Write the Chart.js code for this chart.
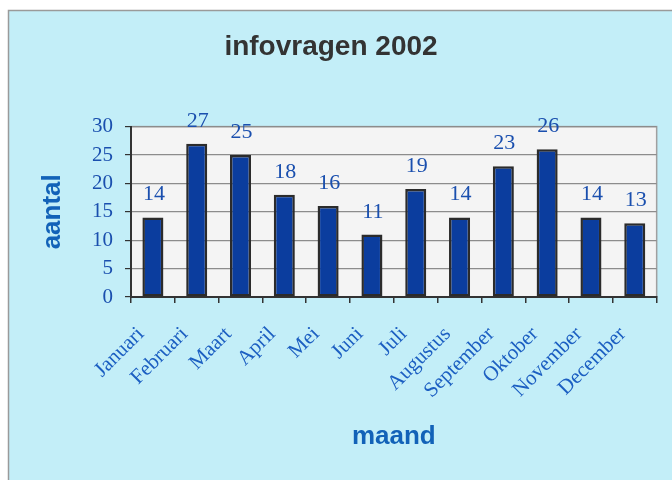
<!DOCTYPE html>
<html>
<head>
<meta charset="utf-8">
<script src="https://cdn.jsdelivr.net/npm/chart.js@4/dist/chart.umd.min.js"></script>
<style>
    html, body { margin: 0; padding: 0; background: #ffffff; }
    #wrap { width: 672px; height: 480px; }
</style>
</head>
<body>
<div id="wrap"><canvas id="chart" width="672" height="480"></canvas></div>
<script>
'use strict';

const maanden = ['Januari', 'Februari', 'Maart', 'April', 'Mei', 'Juni',
    'Juli', 'Augustus', 'September', 'Oktober', 'November', 'December'];
const aantallen = [14, 27, 25, 18, 16, 11, 19, 14, 23, 26, 14, 13];
const yTicks = [0, 5, 10, 15, 20, 25, 30];

const titel = 'infovragen 2002';
const yTitel = 'aantal';
const xTitel = 'maand';

const serif = '"Liberation Serif", "Times New Roman", serif';
const sans = '"Liberation Sans", Arial, sans-serif';

// page + plot backgrounds
const achtergrond = {
    id: 'achtergrond',
    beforeDraw(chart) {
        const ctx = chart.ctx,
            a = chart.chartArea;
        ctx.save();
        ctx.fillStyle = '#ffffff';
        ctx.fillRect(0, 0, chart.width, chart.height);
        ctx.fillStyle = '#c3eef8';
        ctx.fillRect(8, 10, chart.width - 8, chart.height - 10);
        ctx.strokeStyle = '#9a9a9a';
        ctx.lineWidth = 1.5;
        ctx.beginPath();
        ctx.moveTo(8.5, chart.height);
        ctx.lineTo(8.5, 10.5);
        ctx.lineTo(chart.width, 10.5);
        ctx.stroke();

        ctx.fillStyle = '#f4f4f4';
        ctx.fillRect(a.left, a.top, a.right - a.left, a.bottom - a.top);
        ctx.strokeStyle = '#a0a0a0';
        ctx.lineWidth = 1.5;
        ctx.strokeRect(a.left, a.top, a.right - a.left, a.bottom - a.top);
        ctx.restore();
    }
};

// values above the bars
const waarden = {
    id: 'waarden',
    afterDatasetsDraw(chart) {
        const ctx = chart.ctx,
            meta = chart.getDatasetMeta(0);
        ctx.save();
        ctx.fillStyle = '#1a4fae';
        ctx.font = '22px ' + serif;
        ctx.textAlign = 'center';
        ctx.textBaseline = 'alphabetic';
        meta.data.forEach((bar, i) => {
            ctx.fillText(String(aantallen[i]), bar.x + 1, bar.y - 17);
        });
        ctx.restore();
    }
};

new Chart(document.getElementById('chart'), {
    type: 'bar',
    data: {
        labels: maanden,
        datasets: [{
            data: aantallen,
            backgroundColor: '#0b3d9e',
            borderColor: '#2b2b2b',
            borderWidth: 2.5,
            borderSkipped: false,
            categoryPercentage: 1,
            barPercentage: 0.48
        }]
    },
    options: {
        responsive: false,
        animation: false,
        layout: { padding: { left: 0, right: 10, top: 0, bottom: 0 } },
        plugins: {
            legend: { display: false },
            tooltip: { enabled: false },
            title: {
                display: true,
                text: titel,
                color: '#333333',
                font: { family: sans, size: 28, weight: 'bold', lineHeight: 1.2 },
                padding: { top: 30, bottom: 63 }
            }
        },
        scales: {
            x: {
                offset: true,
                grid: {
                    offset: true,
                    drawOnChartArea: false,
                    drawTicks: true,
                    tickLength: 6,
                    tickColor: '#333333',
                    lineWidth: 1.5
                },
                border: { color: '#333333', width: 2 },
                ticks: {
                    autoSkip: false,
                    minRotation: 45,
                    maxRotation: 45,
                    padding: 19,
                    labelOffset: -12,
                    color: '#1c5fc2',
                    font: { family: serif, size: 21 }
                },
                title: {
                    display: true,
                    text: xTitel,
                    color: '#1262b8',
                    font: { family: sans, size: 26, weight: 'bold', lineHeight: 1.2 },
                    padding: { top: 0, bottom: 28 }
                },
                afterFit(scale) {
                    scale.height = 183;
                }
            },
            y: {
                min: yTicks[0],
                max: yTicks[yTicks.length - 1],
                afterBuildTicks(scale) {
                    scale.ticks = yTicks.map(v => ({ value: v }));
                },
                grid: {
                    color: '#8c8c8c',
                    lineWidth: 1.2,
                    tickLength: 6,
                    tickColor: '#333333'
                },
                border: { color: '#333333', width: 2 },
                ticks: {
                    padding: 12,
                    color: '#1a4fae',
                    font: { family: serif, size: 21 }
                },
                title: {
                    display: true,
                    text: yTitel,
                    color: '#1262b8',
                    font: { family: sans, size: 26, weight: 'bold', lineHeight: 1.2 },
                    padding: { top: 37, bottom: 0 }
                },
                afterFit(scale) {
                    scale.width = 131;
                }
            }
        }
    },
    plugins: [achtergrond, waarden]
});
</script>
</body>
</html>
